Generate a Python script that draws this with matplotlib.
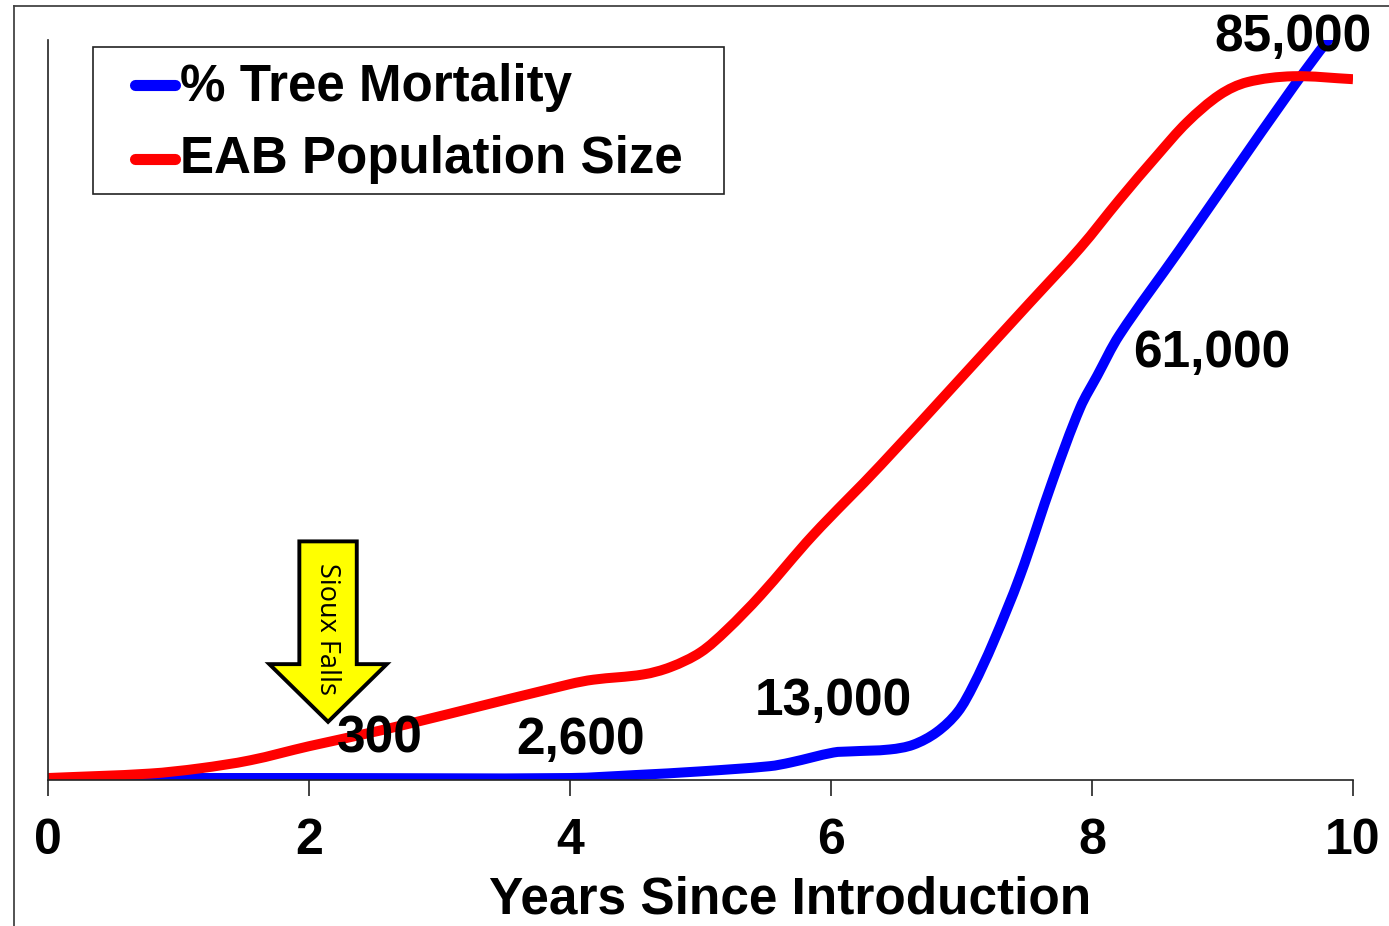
import matplotlib
matplotlib.use('Agg')
import matplotlib.pyplot as plt
import numpy as np
from matplotlib.lines import Line2D
from matplotlib.patches import FancyArrow, PathPatch, Rectangle
from matplotlib.path import Path

W, H = 1389, 926

plt.rcParams['font.family'] = ['Liberation Sans', 'DejaVu Sans']

# years / percent of the y axis
mortality_years = [0, 2, 4, 4.5, 5.0, 5.53, 5.69, 6.02, 6.15, 6.45, 6.63, 6.81, 6.97, 7.09, 7.24,
                   7.45, 7.7, 7.91, 8.04, 8.21, 8.67, 9.06, 9.54, 9.81, 9.87]
mortality = [0.2, 0.2, 0.2, 0.6, 1.1, 1.8, 2.3, 3.65, 3.8, 4.06, 4.7, 6.4, 9.1, 12.7, 18.4,
             27.6, 40.5, 50.3, 54.6, 60.1, 71.6, 81.5, 93.6, 100, 101]

population_years = [0, 0.78, 1.16, 1.55, 2, 2.54, 3.08, 4, 4.18, 4.56, 4.77, 5, 5.2, 5.46, 5.86, 6.38,
                    7.52, 7.91, 8.21, 8.5, 8.73, 8.98, 9.19, 9.54, 10]
population = [0.2, 0.8, 1.5, 2.6, 4.5, 6.6, 8.9, 12.9, 13.5, 14.2, 15.2, 17.2, 20.2, 24.9, 33, 42.5,
              64.4, 71.9, 78.4, 84.4, 88.9, 92.6, 94.3, 95.1, 94.7]

xticks = [0, 2, 4, 6, 8, 10]
labels = ['300', '2,600', '13,000', '61,000', '85,000']
label_x = [2.54, 4.08, 6.02, 8.92, 9.54]
label_y = [5.5, 5.3, 10.5, 57.6, 100.3]
legend_names = ['% Tree Mortality', 'EAB Population Size']
legend_colors = ['#0000ff', '#ff0000']


# smooth line through the read points, like the excel original
def smooth_path(x, y):
    pts = np.column_stack([x, y])
    # work in pixels so the chord lengths mean something
    scale = np.array([130.5, 7.395])
    d = np.linalg.norm(np.diff(pts * scale, axis=0), axis=1)
    tang = np.zeros_like(pts)
    tang[0] = (pts[1] - pts[0]) / d[0]
    tang[-1] = (pts[-1] - pts[-2]) / d[-1]
    for i in range(1, len(pts) - 1):
        tang[i] = (pts[i + 1] - pts[i - 1]) / (d[i - 1] + d[i])
    verts = [pts[0]]
    codes = [Path.MOVETO]
    for i in range(len(pts) - 1):
        verts += [pts[i] + tang[i] * d[i] / 3, pts[i + 1] - tang[i + 1] * d[i] / 3, pts[i + 1]]
        codes += [Path.CURVE4] * 3
    return Path(verts, codes)


def fx(px):
    return px / W


def fy(py):
    return 1 - py / H


fig = plt.figure(figsize=(W / 100, H / 100), dpi=100)
ax = fig.add_axes([fx(48), fy(779.5), 1305 / W, 739.5 / H])
ax.set_xlim(0, 10)
ax.set_ylim(0, 100)

ax.add_patch(PathPatch(smooth_path(mortality_years, mortality), fc='none', ec='#0000ff', lw=7.2, capstyle='butt'))
ax.add_patch(PathPatch(smooth_path(population_years, population), fc='none', ec='#ff0000', lw=7.2, capstyle='butt'))

for side in ['top', 'right']:
    ax.spines[side].set_visible(False)
for side in ['left', 'bottom']:
    ax.spines[side].set_linewidth(1.2)
    ax.spines[side].set_color('#222222')
ax.set_yticks([])
ax.set_xticks(xticks)
ax.tick_params(axis='x', length=11.5, width=1.2, color='#222222', pad=16, labelsize=36)
for t in ax.get_xticklabels():
    t.set_fontweight('bold')
ax.set_xlabel('Years Since Introduction', fontsize=37, fontweight='bold', color='black')
ax.xaxis.set_label_coords(742 / 1305, -96 / 739.5)

for s, x, y in zip(labels, label_x, label_y):
    ax.text(x, y, s, fontsize=37, fontweight='bold', ha='center', va='center', zorder=6)

arrow = FancyArrow(2.146, 32.2, 0, -24.4, width=0.44, head_width=0.9, head_length=7.8,
                   length_includes_head=True, fc='#ffff00', ec='black', lw=2.8, joinstyle='miter', zorder=5)
ax.add_patch(arrow)
ax.text(2.135, 20.4, 'Sioux Falls', rotation=-90, fontsize=19.5, family=['Open Sans'],
        ha='center', va='center', zorder=7)

# legend box drawn by hand: the padding is wider than it is tall
fig.add_artist(Rectangle((fx(93), fy(194)), 631 / W, 147 / H, fc='white', ec='#222222', lw=1.2,
                         transform=fig.transFigure, zorder=8))
for i in range(2):
    fig.add_artist(Line2D([fx(135), fx(175)], [fy(85 + 74 * i)] * 2, color=legend_colors[i], lw=8,
                          solid_capstyle='round', transform=fig.transFigure, zorder=9))
    fig.text(fx(180), fy(100.7 + 72.6 * i), legend_names[i], fontsize=36.8, fontweight='bold',
             ha='left', va='baseline', zorder=10)

# outer slide frame
fig.add_artist(Line2D([fx(14), fx(14)], [0, fy(6)], color='#444444', lw=1.3, transform=fig.transFigure))
fig.add_artist(Line2D([fx(14), 1], [fy(6), fy(6)], color='#444444', lw=1.3, transform=fig.transFigure))

fig.savefig('out.png', dpi=100)
